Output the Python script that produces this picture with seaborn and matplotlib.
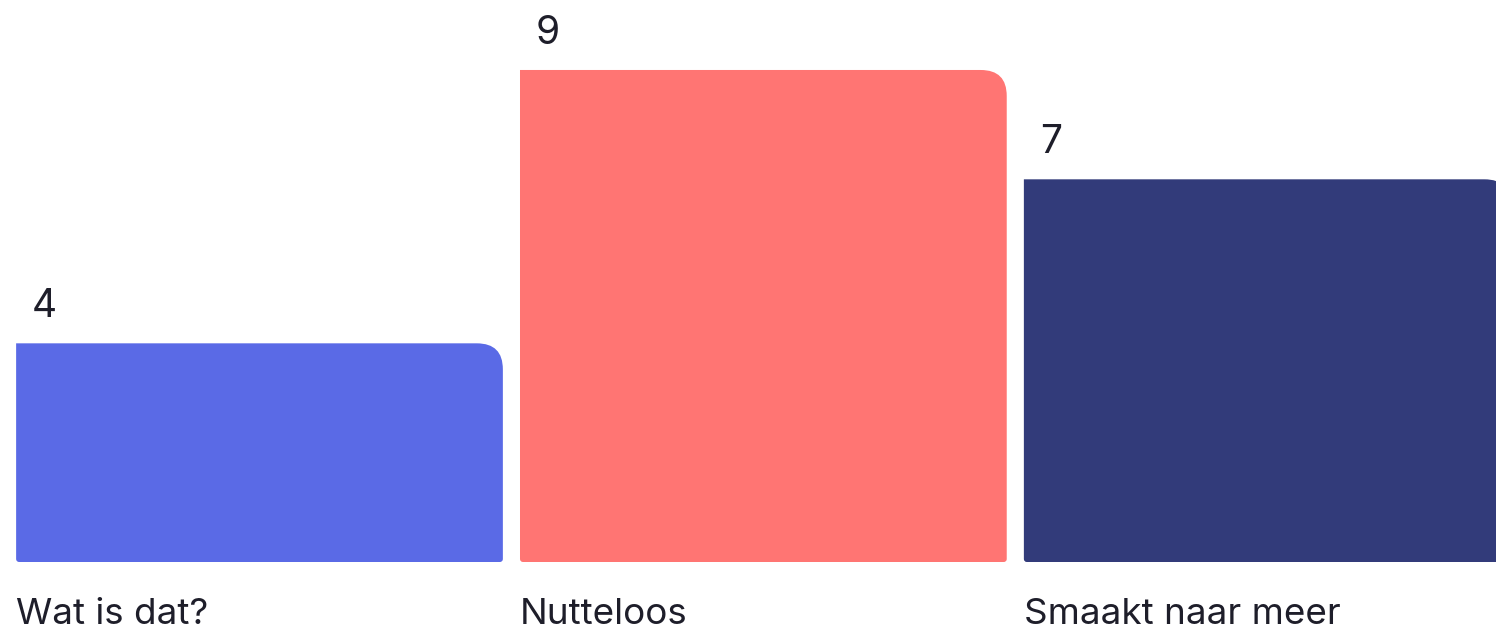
import numpy as np
import pandas as pd
import matplotlib
matplotlib.use("Agg")
import matplotlib.pyplot as plt
from matplotlib.path import Path
from matplotlib.patches import PathPatch
import seaborn as sns

categories = ["Wat is dat?", "Nutteloos", "Smaakt naar meer"]
values = [4, 9, 7]
colors = ["#5a6ae6", "#ff7573", "#323b7a"]

sns.set_theme(style="white")
plt.rcParams["font.family"] = ["Inter", "DejaVu Sans"]

W, H = 1496, 634
fig = plt.figure(figsize=(W / 100, H / 100), dpi=100)
# axes spans the full width; bars sit on a baseline 72 px above the bottom
ax = fig.add_axes([0, 72 / H, 1, 562 / H])

df = pd.DataFrame({"cat": categories, "val": values})
sns.barplot(data=df, x="cat", y="val", hue="cat", palette=colors,
            width=0.966, legend=False, ax=ax, saturation=1)

YMAX = 10.28
ax.set_xlim(-0.515, 2.454)
ax.set_ylim(0, YMAX)
ax.axis("off")

# pixel -> data scale
px_x = (2.454 + 0.515) / W
px_y = YMAX / 562


def rounded_bar(x0, x1, y0, y1, r_top, r_bot):
    tx, ty = r_top * px_x, r_top * px_y
    bx, by = r_bot * px_x, r_bot * px_y
    verts = [
        (x0 + bx, y0), (x1 - bx, y0),
        (x1, y0), (x1, y0 + by),
        (x1, y1 - ty),
        (x1, y1), (x1 - tx, y1),
        (x0, y1),
        (x0, y0 + by),
        (x0, y0), (x0 + bx, y0),
        (x0 + bx, y0),
    ]
    codes = [Path.MOVETO, Path.LINETO,
             Path.CURVE3, Path.CURVE3,
             Path.LINETO,
             Path.CURVE3, Path.CURVE3,
             Path.LINETO,
             Path.LINETO,
             Path.CURVE3, Path.CURVE3,
             Path.CLOSEPOLY]
    return Path(verts, codes)


for patch in list(ax.patches):
    x0, y0 = patch.get_x(), patch.get_y()
    w, h = patch.get_width(), patch.get_height()
    fc = patch.get_facecolor()
    patch.remove()
    ax.add_patch(PathPatch(rounded_bar(x0, x0 + w, y0, y0 + h, 26, 3),
                           facecolor=fc, edgecolor="none"))

    # value label above the bar, left aligned
    ax.text(x0 + 16 * px_x, y0 + h + 26 * px_y, f"{h:g}",
            ha="left", va="baseline", fontsize=28, color="#1e1e2a")

# category labels under each bar
bar_lefts = np.arange(len(categories)) - 0.483
for left, cat in zip(bar_lefts, categories):
    ax.text(left, -62 / 562, cat, transform=ax.get_xaxis_transform(),
            ha="left", va="baseline", fontsize=26.5, color="#1e1e2a")

fig.savefig("out.png", dpi=100)
plt.close(fig)
